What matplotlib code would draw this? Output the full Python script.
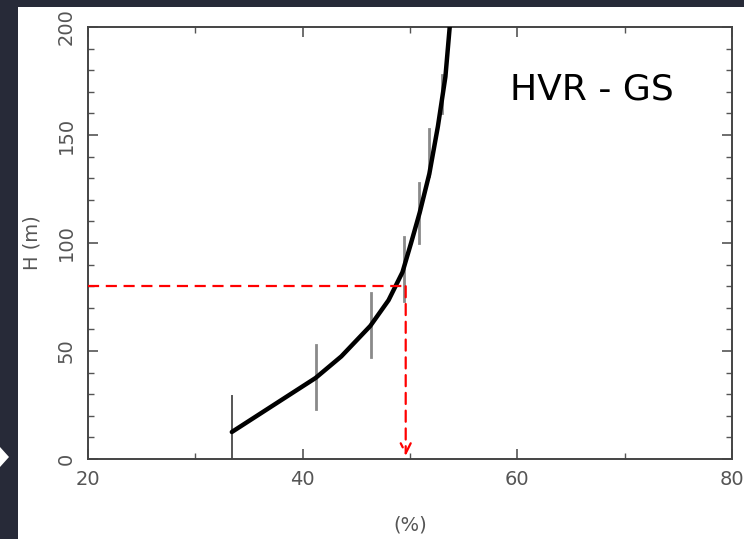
import matplotlib.pyplot as plt
from matplotlib.patches import Rectangle, Polygon
from matplotlib.ticker import MultipleLocator

# depth profile (percent vs height)
pct = [33.4, 41.2, 43.6, 46.3, 48.0, 49.3, 50.1, 50.9, 51.8, 52.6, 53.3, 53.7]
height = [12.5, 37.5, 47.5, 61.6, 73.5, 86.5, 100, 114, 132, 154, 177, 200]

# vertical error bars
err_x = [33.4, 41.2, 46.4, 49.4, 50.8, 51.8, 53.0]
err_lo = [0, 23, 47, 73, 100, 131, 160]
err_hi = [29, 53, 77, 103, 128, 153, 178]

# reading on the curve
read_pct = 49.6
read_h = 80

label_text = "HVR - GS"

fig = plt.figure(figsize=(7.44, 5.39), dpi=100)
fig.patch.set_facecolor('#272a38')
# white slide panel
fig.patches.append(Rectangle((18 / 744, 0), 1, 1 - 7 / 539, transform=fig.transFigure,
                             facecolor='white', edgecolor='none', zorder=-10))
fig.patches.append(Polygon([(0, 1 - 447 / 539), (9 / 744, 1 - 457 / 539), (0, 1 - 467 / 539)],
                           closed=True, transform=fig.transFigure,
                           facecolor='white', edgecolor='none', zorder=-10))

ax = fig.add_axes([88 / 744, 1 - 459 / 539, (732 - 88) / 744, (459 - 27) / 539])
ax.set_facecolor('white')

# error bars
for i in range(len(err_x)):
    c = '#555555' if i == 0 else '#8a8a8a'
    ax.plot([err_x[i], err_x[i]], [err_lo[i], err_hi[i]], color=c, lw=2.0 if i else 1.4, zorder=2)

ax.plot(pct, height, color='black', lw=3.2, solid_capstyle='round',
        solid_joinstyle='round', zorder=3)

# red dashed read-off
ax.plot([20, read_pct], [read_h, read_h], color='red', lw=1.6, ls=(0, (5, 3)), zorder=4)
ax.annotate('', xy=(read_pct, 1.5), xytext=(read_pct, read_h),
            arrowprops=dict(arrowstyle='->', color='red', lw=1.6, ls=(0, (5, 3)),
                            mutation_scale=18, shrinkA=0, shrinkB=0), zorder=4)

ax.text(66.9, 171, label_text, fontsize=26, color='black', va='center', ha='center')

ax.set_xlim(20, 80)
ax.set_ylim(0, 200)
ax.xaxis.set_major_locator(MultipleLocator(20))
ax.xaxis.set_minor_locator(MultipleLocator(10))
ax.yaxis.set_major_locator(MultipleLocator(50))
ax.yaxis.set_minor_locator(MultipleLocator(10))
ax.tick_params(which='both', direction='in', top=True, right=True, colors='#555555',
               labelcolor='#555555', labelsize=14)
ax.tick_params(which='major', length=7, width=1.2, pad=8)
ax.tick_params(which='minor', length=4, width=1.0)
ax.tick_params(axis='y', labelrotation=90, pad=9)
for lab in ax.get_yticklabels():
    lab.set_va('center')
for s in ax.spines.values():
    s.set_color('#444444')
    s.set_linewidth(1.4)

ax.set_xlabel('(%)', fontsize=14, color='#555555', labelpad=19)
ax.set_ylabel('H (m)', fontsize=14, color='#555555', labelpad=11)

fig.savefig('out.png', dpi=100, facecolor=fig.get_facecolor())
